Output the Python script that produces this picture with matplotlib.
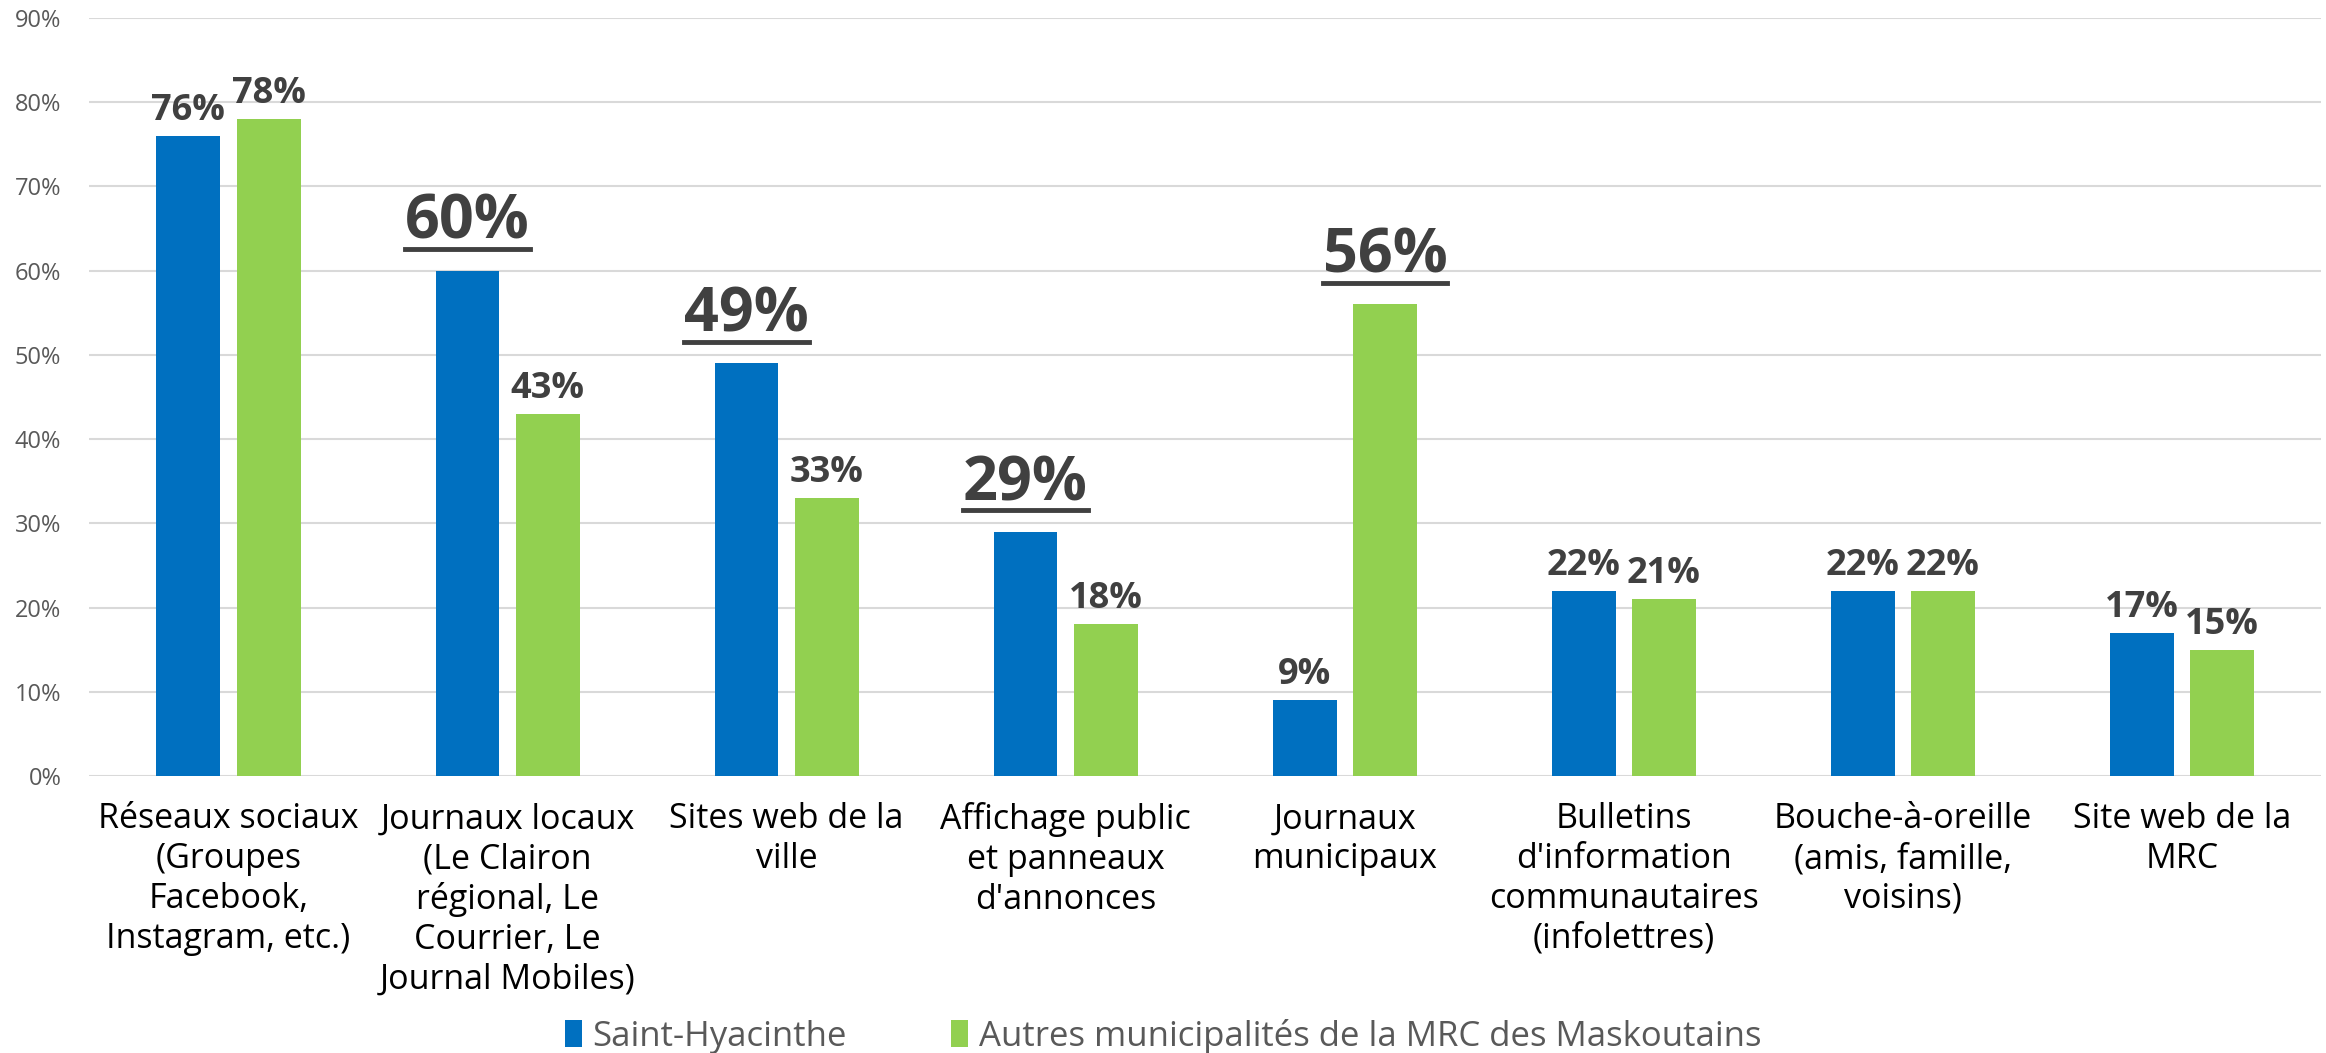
import matplotlib
matplotlib.use("Agg")
import matplotlib.pyplot as plt
from matplotlib.lines import Line2D
import numpy as np

categories = [
    "Réseaux sociaux\n(Groupes\nFacebook,\nInstagram, etc.)",
    "Journaux locaux\n(Le Clairon\nrégional, Le\nCourrier, Le\nJournal Mobiles)",
    "Sites web de la\nville",
    "Affichage public\net panneaux\nd'annonces",
    "Journaux\nmunicipaux",
    "Bulletins\nd'information\ncommunautaires\n(infolettres)",
    "Bouche-à-oreille\n(amis, famille,\nvoisins)",
    "Site web de la\nMRC",
]
series_names = ["Saint-Hyacinthe", "Autres municipalités de la MRC des Maskoutains"]
saint_hyacinthe = [76, 60, 49, 29, 9, 22, 22, 17]
autres = [78, 43, 33, 18, 56, 21, 22, 15]
# labels highlighted (large, underlined): (series index, category index)
highlight = [(0, 1), (0, 2), (0, 3), (1, 4)]
yticks = [0, 10, 20, 30, 40, 50, 60, 70, 80, 90]

BLUE = "#0070C0"
GREEN = "#92D050"
DARK = "#404040"
FONT = ["Open Sans", "DejaVu Sans"]
plt.rcParams["font.family"] = FONT

fig = plt.figure(figsize=(23.26, 10.53), dpi=100)
ax = fig.add_axes([0.0383, 0.263, 0.9597, 0.7201])

x = np.arange(len(categories))
w = 0.229
off = 0.144
b1 = ax.bar(x - off, saint_hyacinthe, w, color=BLUE, label=series_names[0], zorder=3)
b2 = ax.bar(x + off, autres, w, color=GREEN, label=series_names[1], zorder=3)

ax.set_xlim(-0.5, len(categories) - 0.5)
ax.set_ylim(0, 90)
ax.set_yticks(yticks)
ax.set_yticklabels([f"{t}%" for t in yticks], fontsize=17, color="#595959")
ax.yaxis.grid(True, color="#D9D9D9", linewidth=1.5, zorder=0)
ax.tick_params(axis="y", length=0, pad=20)
ax.tick_params(axis="x", length=0, pad=19)
for s in ax.spines.values():
    s.set_visible(False)
ax.set_xticks(x)
ax.set_xticklabels(categories, fontsize=24.5, color="black", linespacing=1.22, va="top")

texts_big = []
for si, (vals, xs) in enumerate([(saint_hyacinthe, x - off), (autres, x + off)]):
    for ci, v in enumerate(vals):
        big = (si, ci) in highlight
        t = ax.annotate(f"{v}%", (xs[ci], v), xytext=(0, 12 if big else 5),
                        textcoords="offset points", ha="center", va="bottom",
                        fontsize=44 if big else 26, fontweight="bold", color=DARK,
                        zorder=4)
        if big:
            texts_big.append(t)

leg = fig.legend(handles=[b1, b2], labels=series_names, loc="center",
                 bbox_to_anchor=(0.5, 0.016), borderaxespad=0, borderpad=0, ncol=2,
                 frameon=False, fontsize=25, handlelength=0.5, handleheight=0.8,
                 handletextpad=0.3, columnspacing=3.0, labelcolor="#595959")

fig.canvas.draw()
r = fig.canvas.get_renderer()
W, H = fig.bbox.width, fig.bbox.height
for t in texts_big:
    bb = t.get_window_extent(r)
    y = bb.y0 + 5
    fig.add_artist(Line2D([bb.x0 / W, bb.x1 / W], [y / H, y / H],
                          transform=fig.transFigure, color=DARK, linewidth=3.5))

fig.savefig("out.png", dpi=100)
